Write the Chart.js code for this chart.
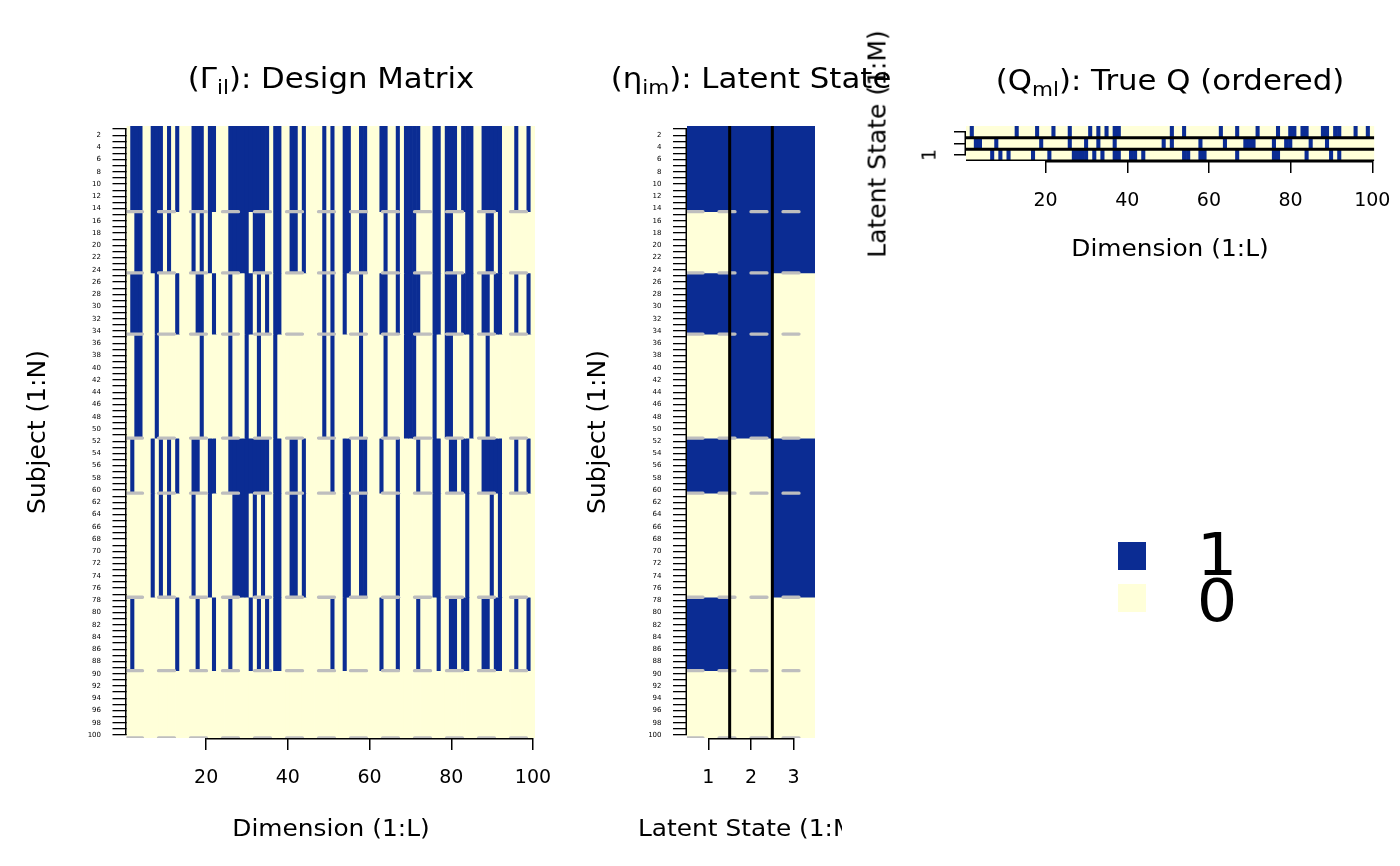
<!DOCTYPE html>
<html><head><meta charset="utf-8">
<script src="https://cdn.jsdelivr.net/npm/chart.js@4.4.1/dist/chart.umd.min.js"></script>
<style>
html,body{margin:0;padding:0;background:#fff;}
#wrap{position:relative;width:1400px;height:866px;overflow:hidden;font-family:'DejaVu Sans',sans-serif;color:#000;}
canvas{position:absolute;top:0;}
.t{position:absolute;white-space:nowrap;line-height:1;font-family:'DejaVu Sans',sans-serif;color:#000;}
.s{font-size:0.7em;vertical-align:-0.3em;line-height:0;}
.sw{position:absolute;width:28px;height:28px;}
</style></head>
<body><div id="wrap">
<canvas id="c1" width="575" height="866" style="left:0px"></canvas>
<canvas id="c2" width="240" height="866" style="left:600px"></canvas>
<canvas id="c3" width="515" height="300" style="left:900px"></canvas>
<div id="clip2" style="position:absolute;left:0;top:0;width:842px;height:866px;overflow:hidden;"></div>
</div>
<script>
// ---------------- data ----------------
const BLUE = '#0B2C93';
const CREAM = '#FFFFD9';

// subject blocks (rows of the design matrix / latent-state matrix)
const blockFirstRow = [1, 15, 25, 35, 52, 61, 78, 90];
const blockLastRow  = [14, 24, 34, 51, 60, 77, 89, 100];

// latent state eta (per block) for states 1..3
const etaState1 = [1, 0, 1, 0, 1, 0, 1, 0];
const etaState2 = [1, 1, 1, 1, 0, 0, 0, 0];
const etaState3 = [1, 1, 0, 0, 1, 1, 0, 0];

// design matrix Gamma: dimensions equal to 1 in each subject block
const gammaBlock1Ones = [2,3,4,7,8,9,11,13,17,18,19,21,22,26,27,28,29,30,31,32,33,34,35,37,38,41,42,44,49,51,54,55,58,59,63,64,67,69,70,71,72,76,77,79,80,81,83,84,85,88,89,90,91,92,96,99];
const gammaBlock2Ones = [3,4,7,8,9,11,17,19,21,26,27,28,29,30,32,33,34,37,38,41,42,44,49,51,54,55,58,59,64,67,69,70,71,76,77,79,80,84,85,89,90,92];
const gammaBlock3Ones = [2,3,4,8,13,18,19,22,26,30,31,33,35,37,38,49,51,54,58,63,64,67,69,70,71,72,76,77,79,80,81,83,84,85,88,89,91,92,96,99];
const gammaBlock4Ones = [3,4,8,19,26,30,33,37,49,51,58,64,69,70,71,76,79,80,85,89];
const gammaBlock5Ones = [2,7,9,11,13,17,18,21,22,26,27,28,29,30,31,32,33,34,35,37,38,41,42,44,51,54,55,58,59,63,67,72,76,77,80,81,83,84,88,89,90,91,92,96,99];
const gammaBlock6Ones = [7,9,11,17,21,27,28,29,30,32,34,37,38,41,42,44,54,55,58,59,67,76,77,84,90,92];
const gammaBlock7Ones = [2,13,18,22,26,31,33,35,37,38,51,54,63,67,72,77,80,81,83,84,88,89,91,92,96,99];
const gammaBlock8Ones = [];

// true Q matrix rows (top row to bottom row of the Q panel)
const qRow1Ones = [2,13,18,22,26,31,33,35,37,38,51,54,63,67,72,77,80,81,83,84,88,89,91,92,96,99];
const qRow2Ones = [3,4,8,19,26,30,33,37,49,51,58,64,69,70,71,76,79,80,85,89];
const qRow3Ones = [7,9,11,17,21,27,28,29,30,32,34,37,38,41,42,44,54,55,58,59,67,76,77,84,90,92];

// tick labels
const dimTicks = [20, 40, 60, 80, 100];
const stateTicks = [1, 2, 3];
const qRowTicks = [1, 2, 3];
const nDims = 100, nSubjects = 100, nStates = 3;

// -------------------------------------------------------------
const dims = Array.from({length: nDims}, (_, i) => i + 1);
const subjects = Array.from({length: nSubjects}, (_, i) => i + 1);
const states = Array.from({length: nStates}, (_, i) => i + 1);
const gammaBlocks = [gammaBlock1Ones, gammaBlock2Ones, gammaBlock3Ones, gammaBlock4Ones,
                     gammaBlock5Ones, gammaBlock6Ones, gammaBlock7Ones, gammaBlock8Ones];
const etaStates = [etaState1, etaState2, etaState3];
const qRows = [qRow1Ones, qRow2Ones, qRow3Ones];
const qRowY = [3, 2, 1];
const boundaries = blockLastRow.map(r => r + 0.5);

const FONT = 'DejaVu Sans';
Chart.defaults.font.family = FONT;
Chart.defaults.color = '#000';

const rAxis = {
  id: 'rAxis',
  afterDraw(chart) {
    const ctx = chart.ctx, a = chart.chartArea, xs = chart.scales.x, ys = chart.scales.y;
    ctx.save();
    ctx.strokeStyle = '#000'; ctx.lineWidth = 1.5; ctx.lineCap = 'butt';
    ctx.beginPath();
    const xt = xs.ticks, yt = ys.ticks;
    const yb = a.bottom + 0.75;
    ctx.moveTo(xs.getPixelForValue(xt[0].value), yb);
    ctx.lineTo(xs.getPixelForValue(xt[xt.length - 1].value), yb);
    const xl = a.left - 0.75;
    ctx.moveTo(xl, ys.getPixelForValue(yt[0].value));
    ctx.lineTo(xl, ys.getPixelForValue(yt[yt.length - 1].value));
    ctx.stroke();
    ctx.restore();
  }
};

function barSet(points, colors) {
  return {type: 'bar', data: points, backgroundColor: colors, borderWidth: 0,
          grouped: false, barPercentage: 1, categoryPercentage: 1, order: 3};
}
function lineSet(points, color, width, dash, order) {
  return {type: 'line', data: points, borderColor: color, borderWidth: width,
          borderDash: dash, borderCapStyle: dash.length ? 'round' : 'butt',
          pointRadius: 0, fill: false, tension: 0, order: order};
}
function xAxis(min, max, ticks, fontSize) {
  return {type: 'linear', min: min, max: max, bounds: 'data', offset: false,
    afterBuildTicks: s => { s.ticks = ticks.map(v => ({value: v})); },
    afterFit: s => { s.height = 60; },
    ticks: {autoSkip: false, maxRotation: 0, minRotation: 0, padding: 16.5,
            font: {family: FONT, size: fontSize}, color: '#000', callback: v => String(v)},
    grid: {display: true, offset: false, drawOnChartArea: false, drawTicks: true, tickLength: 12, color: '#000', lineWidth: 1.5},
    border: {display: false}};
}
function yAxisSubjects() {
  return {type: 'linear', min: 0.5, max: nSubjects + 0.5, reverse: true, bounds: 'data', offset: false,
    afterBuildTicks: s => { s.ticks = subjects.map(v => ({value: v})); },
    afterFit: s => { s.width = 40; },
    ticks: {autoSkip: false, padding: 11.5, font: {family: FONT, size: 7}, color: '#000',
            callback: v => (v % 2 === 0 ? String(v) : '')},
    grid: {display: true, offset: false, drawOnChartArea: false, drawTicks: true, tickLength: 14, color: '#000', lineWidth: 1.3},
    border: {display: false}};
}
function baseOptions(padding, scales) {
  return {responsive: false, animation: false, devicePixelRatio: 1,
    layout: {padding: padding},
    plugins: {legend: {display: false}, tooltip: {enabled: false}, title: {display: false}},
    scales: scales};
}

// ---------------- panel 1: design matrix ----------------
const ds1 = blockFirstRow.map((r0, b) => barSet(
  dims.map(l => ({x: l, y: [r0 - 0.5, blockLastRow[b] + 0.5]})),
  dims.map(l => gammaBlocks[b].includes(l) ? BLUE : CREAM)));
boundaries.forEach(yb => ds1.push(lineSet([{x: 0.5, y: yb}, {x: nDims + 0.5, y: yb}], '#BEBEBE', 3.3, [16, 16], 1)));
new Chart(document.getElementById('c1'), {
  type: 'bar', data: {datasets: ds1},
  options: baseOptions({left: 86.5, right: 40, top: 126, bottom: 68},
    {x: xAxis(0.5, nDims + 0.5, dimTicks, 19), y: yAxisSubjects()}),
  plugins: [rAxis]
});

// ---------------- panel 2: latent state ----------------
const ds2 = blockFirstRow.map((r0, b) => barSet(
  states.map(m => ({x: m, y: [r0 - 0.5, blockLastRow[b] + 0.5]})),
  states.map(m => etaStates[m - 1][b] ? BLUE : CREAM)));
boundaries.forEach(yb => ds2.push(lineSet([{x: 0.5, y: yb}, {x: nStates + 0.5, y: yb}], '#BEBEBE', 3.3, [16, 16], 1)));
[1.5, 2.5].forEach(xv => ds2.push(lineSet([{x: xv, y: 0.5}, {x: xv, y: nSubjects + 0.5}], '#000', 3, [], 0)));
new Chart(document.getElementById('c2'), {
  type: 'bar', data: {datasets: ds2},
  options: baseOptions({left: 47, right: 25, top: 126, bottom: 68},
    {x: xAxis(0.5, nStates + 0.5, stateTicks, 19), y: yAxisSubjects()}),
  plugins: [rAxis]
});

// ---------------- panel 3: true Q ----------------
const ds3 = qRows.map((ones, r) => barSet(
  dims.map(l => ({x: l, y: [qRowY[r] - 0.5, qRowY[r] + 0.5]})),
  dims.map(l => ones.includes(l) ? BLUE : CREAM)));
[2.5, 1.5, 0.5].forEach(yv => ds3.push(lineSet([{x: 0.5, y: yv}, {x: nDims + 0.5, y: yv}], '#000', 3, [], 0)));
new Chart(document.getElementById('c3'), {
  type: 'bar', data: {datasets: ds3},
  options: baseOptions({left: 26, right: 40.7, top: 126, bottom: 79},
    {x: xAxis(0.5, nDims + 0.5, dimTicks, 19),
     y: {type: 'linear', min: 0.5, max: 3.5, bounds: 'data', offset: false,
         afterBuildTicks: s => { s.ticks = qRowTicks.map(v => ({value: v})); },
         afterFit: s => { s.width = 40; },
         ticks: {display: false},
         grid: {display: true, offset: false, drawOnChartArea: false, drawTicks: true, tickLength: 12, color: '#000', lineWidth: 1.5},
         border: {display: false}}}),
  plugins: [rAxis]
});

// ---------------- text ----------------
const wrap = document.getElementById('wrap');
function hText(html, cx, baseline, size, sx, parent) {
  const el = document.createElement('div');
  el.className = 't';
  el.innerHTML = html;
  el.style.fontSize = size + 'px';
  el.style.left = cx + 'px';
  el.style.top = (baseline - 0.846 * size) + 'px';
  el.style.transform = 'translateX(-50%) scaleX(' + sx + ')';
  (parent || wrap).appendChild(el);
}
function vText(html, cx, cy, size) {
  const el = document.createElement('div');
  el.className = 't';
  el.innerHTML = html;
  el.style.fontSize = size + 'px';
  el.style.left = cx + 'px';
  el.style.top = cy + 'px';
  el.style.transform = 'translate(-50%,-50%) rotate(-90deg)';
  wrap.appendChild(el);
}
hText('(\u0393<span class="s">il</span>): Design Matrix', 330.7, 88.5, 28, 1.1);
hText('(\u03B7<span class="s">im</span>): Latent State', 751, 88.5, 28, 1.1);
hText('(Q<span class="s">ml</span>): True Q (ordered)', 1170, 91, 28, 1.1);
hText('Dimension (1:L)', 330.7, 836.5, 23, 1.08);
hText('Latent State (1:M)', 751, 836.5, 23, 1.08, document.getElementById('clip2'));
hText('Dimension (1:L)', 1170, 256.7, 23, 1.08);
vText('Subject (1:N)', 36, 432, 25);
vText('Subject (1:N)', 596, 432, 25);
vText('Latent State (1:M)', 877, 143.5, 25);
vText('1', 929, 155, 19);

// legend
const legendValues = ['1', '0'];
const legendColors = [BLUE, CREAM];
const legendTop = [542, 584];
const legendBase = [575, 621];
legendValues.forEach((v, i) => {
  const sw = document.createElement('div');
  sw.className = 'sw';
  sw.style.left = '1118px'; sw.style.top = legendTop[i] + 'px'; sw.style.background = legendColors[i];
  wrap.appendChild(sw);
  hText(v, 1217, legendBase[i], 58, 1.1);
});
</script>
</body></html>
